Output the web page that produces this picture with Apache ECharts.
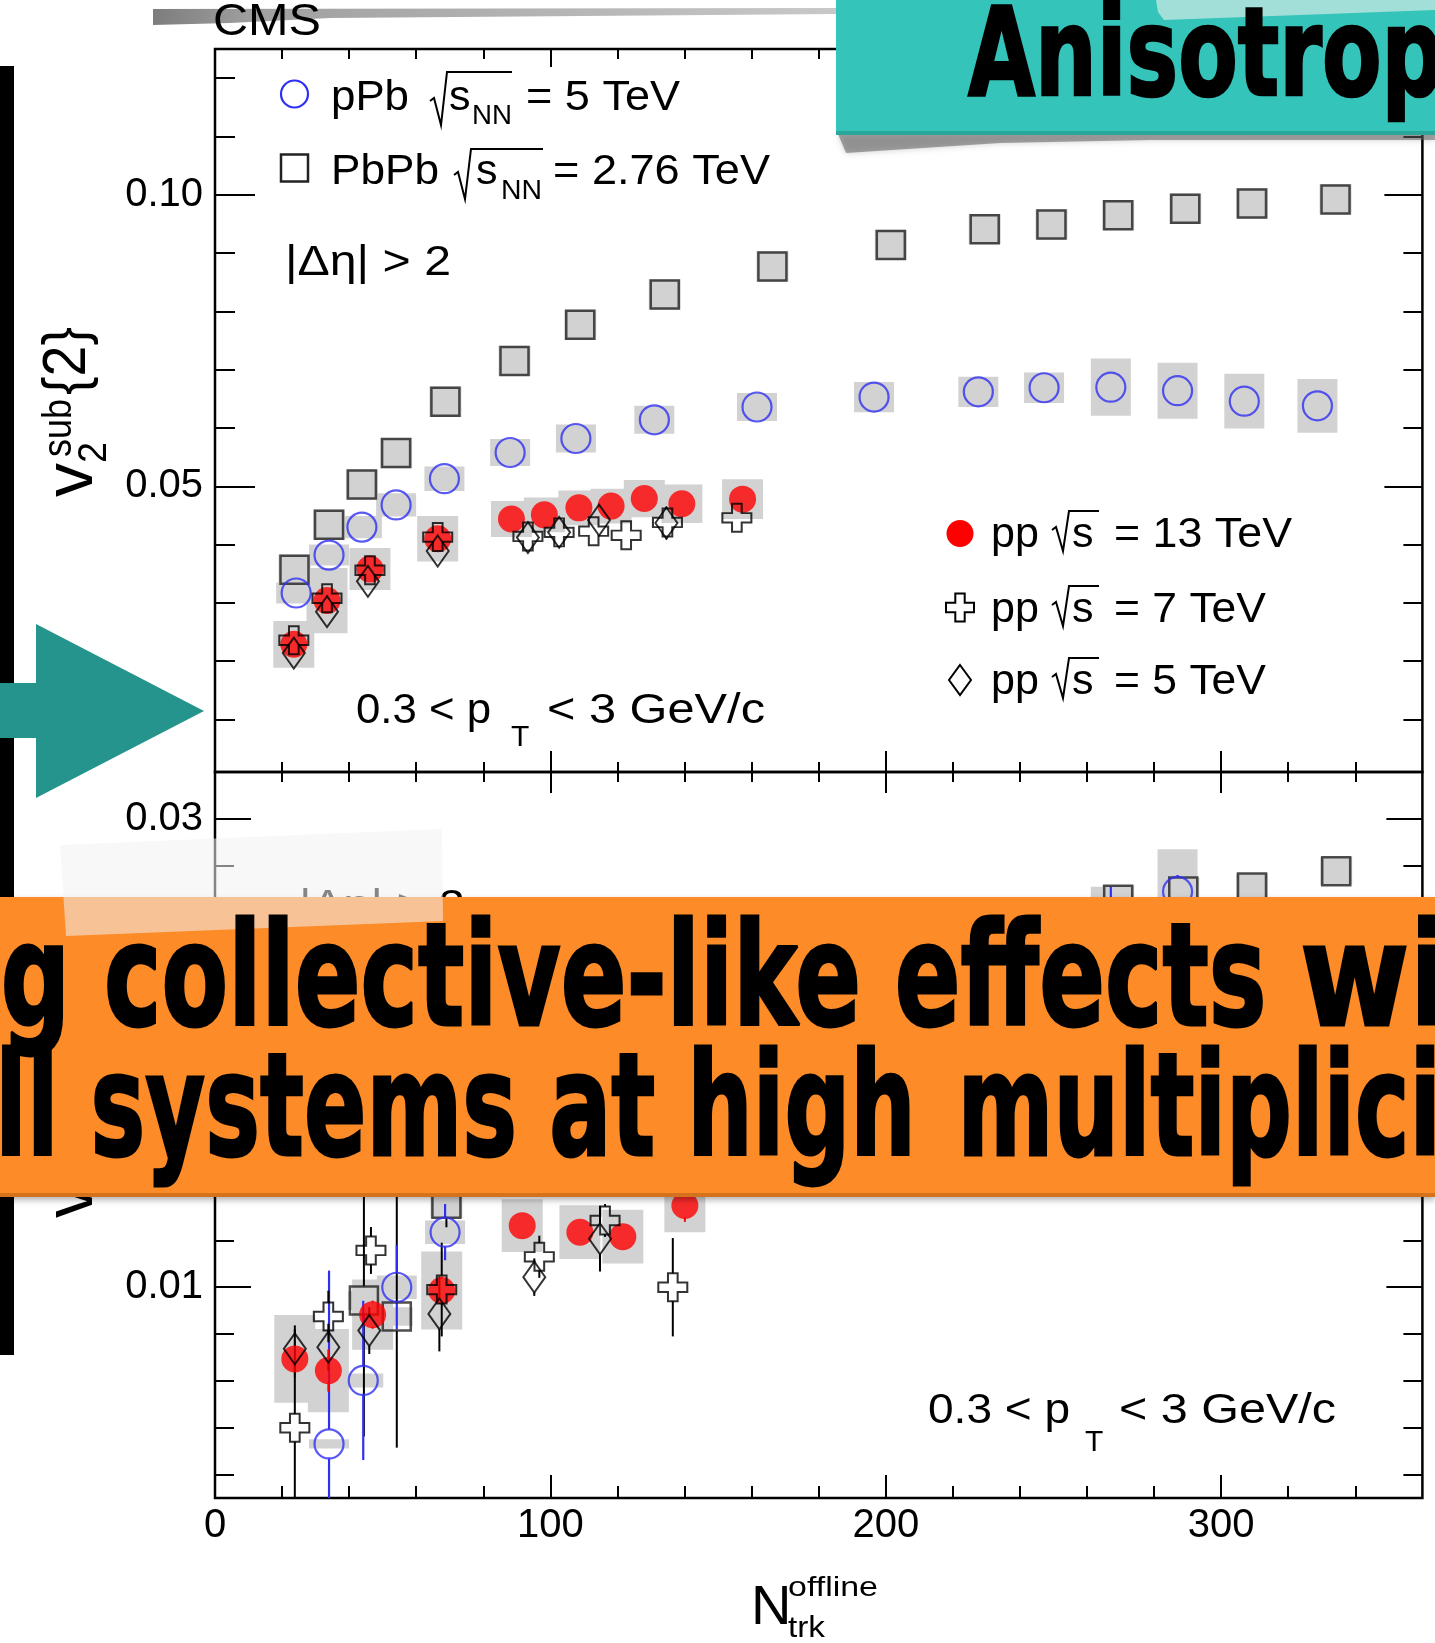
<!DOCTYPE html>
<html>
<head>
<meta charset="utf-8">
<title>v2sub{2} vs Ntrk offline</title>
<script src="https://cdn.jsdelivr.net/npm/echarts@6/dist/echarts.min.js"></script>
<style>
html,body{margin:0;padding:0;background:#ffffff;overflow:hidden;}
#chart{width:1435px;height:1643px;}
</style>
</head>
<body>
<div id="chart"></div>
<script>
// ================= DATA =================
// --- Upper panel: v2sub{2} ---
const v2_PbPb_N   = [23.7, 34.0, 43.8, 54.0, 68.7, 89.3, 108.9, 134.1, 166.2, 201.5, 229.5, 249.4, 269.3, 289.3, 309.2, 334.1];
const v2_PbPb     = [0.0357, 0.0434, 0.0503, 0.0557, 0.0645, 0.0715, 0.0777, 0.0829, 0.0877, 0.0914, 0.0941, 0.0949, 0.0965, 0.0976, 0.0985, 0.0992];
const v2_PbPb_sys = [0.0026, 0.0026, 0.0026, 0.0026, 0.0026, 0.0026, 0.0026, 0.0026, 0.0026, 0.0026, 0.0026, 0.0026, 0.0026, 0.0026, 0.0026, 0.0026];

const v2_pPb_N   = [24.2, 34.0, 43.8, 54.0, 68.4, 88.0, 107.6, 131.0, 161.6, 196.5, 227.6, 247.2, 267.1, 287.0, 306.9, 328.7];
const v2_pPb     = [0.0317, 0.0382, 0.0430, 0.0468, 0.0513, 0.0558, 0.0582, 0.0614, 0.0636, 0.0653, 0.0662, 0.0669, 0.0670, 0.0664, 0.0646, 0.0638];
const v2_pPb_sys = [0.0018, 0.0018, 0.0019, 0.0020, 0.0021, 0.0023, 0.0024, 0.0024, 0.0024, 0.0026, 0.0026, 0.0026, 0.0049, 0.0048, 0.0047, 0.0046];

const v2_pp13_N   = [23.5, 33.4, 46.2, 66.4, 88.4, 98.2, 108.5, 118.1, 128.0, 139.2, 157.3];
const v2_pp13     = [0.0229, 0.0304, 0.0358, 0.0410, 0.0444, 0.0451, 0.0463, 0.0466, 0.0479, 0.0470, 0.0478];
const v2_pp13_sys = [0.0040, 0.0056, 0.0036, 0.0039, 0.0031, 0.0030, 0.0030, 0.0030, 0.0032, 0.0033, 0.0034];

const v2_pp7_N   = [23.5, 33.4, 46.2, 66.4, 93.3, 102.6, 112.9, 122.6, 134.9, 155.6];
const v2_pp7     = [0.0236, 0.0308, 0.0356, 0.0413, 0.0414, 0.0421, 0.0423, 0.0416, 0.0438, 0.0446];
const v2_pp7_err = [0.0005, 0.0005, 0.0005, 0.0005, 0.0012, 0.0012, 0.0012, 0.0012, 0.0015, 0.0018];

const v2_pp5_N   = [23.5, 33.4, 45.6, 66.4, 93.3, 102.6, 114.5, 134.6];
const v2_pp5     = [0.0214, 0.0285, 0.0337, 0.0389, 0.0412, 0.0421, 0.0442, 0.0437];
const v2_pp5_err = [0.0010, 0.0010, 0.0010, 0.0010, 0.0015, 0.0015, 0.0018, 0.0028];

// --- Lower panel: v3sub{2} ---
const v3_PbPb_N   = [44.4, 54.2, 69.0, 269.3, 288.7, 309.2, 334.3];
const v3_PbPb     = [0.00943, 0.00875, 0.01356, 0.02655, 0.02690, 0.02707, 0.02776];
const v3_PbPb_err = [0.0058, 0.0056, 0.0010, 0.0005, 0.0005, 0.0005, 0.0005];
const v3_PbPb_sys = [0.0004, 0.0004, 0.0006, 0.0006, 0.0006, 0.0006, 0.0006];

const v3_pPb_N   = [34.0, 44.2, 54.2, 68.6, 267.1, 287.0, 328.7];
const v3_pPb     = [0.00331, 0.00602, 0.01000, 0.01235, 0.0256, 0.0269, 0.0240];
const v3_pPb_err = [0.0074, 0.0034, 0.0018, 0.0012, 0.0015, 0.0007, 0.0026];
const v3_pPb_sys = [0.0002, 0.0003, 0.0005, 0.0005, 0.0015, 0.0018, 0.0018];

const v3_pp13_N   = [23.8, 33.8, 47.0, 67.6, 91.6, 108.8, 121.6, 140.1];
const v3_pp13     = [0.00694, 0.00644, 0.00883, 0.00986, 0.01263, 0.01235, 0.01216, 0.01349];
const v3_pp13_err = [0.0008, 0.0009, 0.0006, 0.0006, 0.0005, 0.0005, 0.0005, 0.0007];
const v3_pp13_sys = [0.00187, 0.00178, 0.00150, 0.00167, 0.00113, 0.00115, 0.00115, 0.00114];

const v3_pp7_N   = [23.8, 33.8, 46.5, 67.6, 96.7, 116.3, 136.5];
const v3_pp7     = [0.00400, 0.00875, 0.01157, 0.00990, 0.01130, 0.01285, 0.01000];
const v3_pp7_err = [0.0042, 0.0011, 0.0010, 0.0020, 0.0009, 0.0007, 0.0021];

const v3_pp5_N   = [23.8, 33.8, 46.0, 66.9, 95.2, 114.8];
const v3_pp5     = [0.00737, 0.00744, 0.00815, 0.00886, 0.01043, 0.01207];
const v3_pp5_err = [0.0010, 0.0010, 0.0010, 0.0016, 0.0008, 0.0014];

// --- Axes: ranges and ticks ---
const xRange = [0, 360];
const y2Range = [0.001, 0.125];
const y3Range = [0.001, 0.032];
const xTicksMajor = [0, 100, 200, 300];
const xTicksMinor = [20, 40, 60, 80, 120, 140, 160, 180, 220, 240, 260, 280, 320, 340];
const xTickLabels = [0, 100, 200, 300];
const y2TicksMajor = [0.05, 0.10];
const y2TicksMinor = [0.01, 0.02, 0.03, 0.04, 0.06, 0.07, 0.08, 0.09, 0.11, 0.12];
const y2TickLabels = [0.05, 0.10];
const y3TicksMajor = [0.01, 0.02, 0.03];
const y3TicksMinor = [0.002, 0.004, 0.006, 0.008, 0.012, 0.014, 0.016, 0.018, 0.022, 0.024, 0.026, 0.028];
const y3TickLabels = [0.01, 0.02, 0.03];

// ================= STYLE / LAYOUT =================
const SANS = '"Liberation Sans", Arial, Helvetica, sans-serif';
const BLUE = '#2f2ff2';
const RED = '#ff0000';
const BOXGRAY = '#d2d2d2';
const GRID_L = 215, GRID_R = 12.6;
const MID = 0.28;   // offset of the canvas "middle" line above the alphabetic baseline (in em)

const chart = echarts.init(document.getElementById('chart'), null, {renderer: 'canvas', width: 1435, height: 1643});

const _ctx = document.createElement('canvas').getContext('2d');
function measureW(s, font) { _ctx.font = font; return _ctx.measureText(s).width; }

function txt(str, x, base, size, o) {
  o = o || {};
  const family = o.family || SANS;
  const font = (o.weight ? o.weight + ' ' : '') + size + 'px ' + family;
  let sx = 1;
  if (o.width) sx = o.width / measureW(str, font);
  const style = { text: str, x: 0, y: -MID * size, font: font, fill: o.color || '#000',
    align: 'left', textAlign: 'left', verticalAlign: 'middle', textVerticalAlign: 'middle' };
  return { type: 'text', x: x, y: base, rotation: o.rot || 0, scaleX: sx, scaleY: o.sy || 1,
    originX: 0, originY: 0, z: o.z || 20, silent: true, style: style };
}

// Banner line: fit one reference segment to [segL, segR], then place all pieces with the same scale
function bannerLine(pieces, prefix, seg, segL, segR, base, F, xh, z) {
  const font = 'bold ' + F + 'px "DejaVu Sans", sans-serif';
  const wPre = measureW(prefix, font);
  const wSeg = measureW(prefix + seg, font) - wPre;
  const sx = (segR - segL) / wSeg;
  const sy = xh / (0.547 * F);
  return pieces.map(function (p) {
    const left = (p[1] === null) ? segL - wPre * sx : p[1];
    const k = p[2] || 1;
    return { type: 'text', x: left, y: base, scaleX: sx * k, scaleY: sy, originX: 0, originY: 0,
      z: z, silent: true,
      style: { text: p[0], x: 0, y: -MID * F, font: font, fill: '#000', stroke: '#000', lineWidth: 2,
        lineJoin: 'round', align: 'left', textAlign: 'left', verticalAlign: 'middle', textVerticalAlign: 'middle' } };
  });
}

function line(points, color, w, z) {
  return { type: 'polyline', shape: { points: points }, silent: true, z: z || 20,
    style: { stroke: color || '#000', lineWidth: w || 2, fill: null, lineJoin: 'miter' } };
}

function crossPts(cx, cy, h, a) {
  return [[cx - a, cy - h], [cx + a, cy - h], [cx + a, cy - a], [cx + h, cy - a], [cx + h, cy + a], [cx + a, cy + a],
          [cx + a, cy + h], [cx - a, cy + h], [cx - a, cy + a], [cx - h, cy + a], [cx - h, cy - a], [cx - a, cy - a]];
}

// ---------- axes ----------
function xa(grid, pos, ticks, len, labels) {
  return {
    type: 'value', gridIndex: grid, position: pos, min: xRange[0], max: xRange[1],
    axisLine: { show: false, onZero: false }, splitLine: { show: false },
    axisTick: { show: true, inside: true, length: len, customValues: ticks, lineStyle: { color: '#000', width: 2 } },
    axisLabel: labels ? { show: true, customValues: labels, fontSize: 40, fontFamily: SANS, color: '#000', margin: 8,
      formatter: function (v) { return String(Math.round(v)); } } : { show: false }
  };
}
function ya(grid, pos, range, ticks, len, labels) {
  return {
    type: 'value', gridIndex: grid, position: pos, min: range[0], max: range[1],
    axisLine: { show: false, onZero: false }, splitLine: { show: false },
    axisTick: { show: true, inside: true, length: len, customValues: ticks, lineStyle: { color: '#000', width: 2 } },
    axisLabel: labels ? { show: true, customValues: labels, fontSize: 40, fontFamily: SANS, color: '#000', margin: 12,
      formatter: function (v) { return v.toFixed(2); } } : { show: false }
  };
}

const xAxes = [
  xa(0, 'bottom', xTicksMajor, 21, null),
  xa(0, 'bottom', xTicksMinor, 10, null),
  xa(0, 'top', xTicksMajor, 18, null),
  xa(0, 'top', xTicksMinor, 10, null),
  xa(1, 'bottom', xTicksMajor, 23, xTickLabels),
  xa(1, 'bottom', xTicksMinor, 12, null),
  xa(1, 'top', xTicksMajor, 21, null),
  xa(1, 'top', xTicksMinor, 10, null)
];
const yAxes = [
  ya(0, 'left', y2Range, y2TicksMajor, 40, y2TickLabels),
  ya(0, 'left', y2Range, y2TicksMinor, 20, null),
  ya(0, 'right', y2Range, y2TicksMajor, 38, null),
  ya(0, 'right', y2Range, y2TicksMinor, 19, null),
  ya(1, 'left', y3Range, y3TicksMajor, 36, y3TickLabels),
  ya(1, 'left', y3Range, y3TicksMinor, 19, null),
  ya(1, 'right', y3Range, y3TicksMajor, 36, null),
  ya(1, 'right', y3Range, y3TicksMinor, 19, null)
];

// ---------- series ----------
function zip3(a, b, c) { return a.map(function (n, i) { return [n, b[i], c ? c[i] : 0]; }); }

function boxSeries(xi, yi, N, v, sys, halfW) {
  return {
    type: 'custom', xAxisIndex: xi, yAxisIndex: yi, z: 1, silent: true, clip: true,
    data: zip3(N, v, sys),
    renderItem: function (params, api) {
      const n = api.value(0), y = api.value(1), e = api.value(2);
      const p1 = api.coord([n, y + e]), p2 = api.coord([n, y - e]);
      const r = echarts.graphic.clipRectByRect(
        { x: p1[0] - halfW, y: p1[1], width: 2 * halfW, height: p2[1] - p1[1] }, params.coordSys);
      return r ? { type: 'rect', shape: r, style: { fill: BOXGRAY } } : null;
    }
  };
}
function errSeries(xi, yi, N, v, err, color, gap, lw) {
  return {
    type: 'custom', xAxisIndex: xi, yAxisIndex: yi, z: 2, silent: true, clip: true,
    data: zip3(N, v, err),
    renderItem: function (params, api) {
      const n = api.value(0), y = api.value(1), e = api.value(2);
      const c = api.coord([n, y]), t = api.coord([n, y + e]), b = api.coord([n, y - e]);
      const cs = params.coordSys;
      const top = Math.max(t[1], cs.y), bot = Math.min(b[1], cs.y + cs.height);
      const ch = [];
      if (c[1] - gap > top) ch.push({ type: 'line', shape: { x1: c[0], y1: top, x2: c[0], y2: Math.min(c[1] - gap, cs.y + cs.height) },
        style: { stroke: color, lineWidth: lw || 2 } });
      if (bot > c[1] + gap) ch.push({ type: 'line', shape: { x1: c[0], y1: Math.max(c[1] + gap, cs.y), x2: c[0], y2: bot },
        style: { stroke: color, lineWidth: lw || 2 } });
      return { type: 'group', children: ch };
    }
  };
}
function scat(xi, yi, N, v, symbol, size, itemStyle, z) {
  return { type: 'scatter', xAxisIndex: xi, yAxisIndex: yi, silent: true, z: z, clip: true,
    data: zip3(N, v, null).map(function (d) { return [d[0], d[1]]; }),
    symbol: symbol, symbolSize: size, itemStyle: itemStyle, emphasis: { disabled: true } };
}
const CROSS = 'path://M10,0 L20,0 L20,10 L30,10 L30,20 L20,20 L20,30 L10,30 L10,20 L0,20 L0,10 L10,10 Z';
const OPEN = 'rgba(0,0,0,0)';

function panel(xi, yi, D) {
  const s = [];
  s.push(boxSeries(xi, yi, D.pPb_N, D.pPb, D.pPb_sys, 20));
  s.push(boxSeries(xi, yi, D.PbPb_N, D.PbPb, D.PbPb_sys, 16));
  s.push(boxSeries(xi, yi, D.pp13_N, D.pp13, D.pp13_sys, 20.5));
  if (D.PbPb_err) s.push(errSeries(xi, yi, D.PbPb_N, D.PbPb, D.PbPb_err, '#000', 14, 2));
  if (D.pPb_err) s.push(errSeries(xi, yi, D.pPb_N, D.pPb, D.pPb_err, BLUE, 14.5, 2.2));
  if (D.pp13_err) s.push(errSeries(xi, yi, D.pp13_N, D.pp13, D.pp13_err, RED, 12, 2));
  s.push(errSeries(xi, yi, D.pp5_N, D.pp5, D.pp5_err, '#000', 15, 2));
  s.push(errSeries(xi, yi, D.pp7_N, D.pp7, D.pp7_err, '#000', 14, 2));
  s.push(scat(xi, yi, D.PbPb_N, D.PbPb, 'rect', 28, { color: OPEN, borderColor: '#222', borderWidth: 2.5 }, 5));
  s.push(scat(xi, yi, D.pPb_N, D.pPb, 'circle', 29, { color: OPEN, borderColor: BLUE, borderWidth: 2.2 }, 6));
  s.push(scat(xi, yi, D.pp13_N, D.pp13, 'circle', 27, { color: RED }, 7));
  s.push(scat(xi, yi, D.pp5_N, D.pp5, 'diamond', [22, 31], { color: OPEN, borderColor: '#000', borderWidth: 2 }, 8));
  s.push(scat(xi, yi, D.pp7_N, D.pp7, CROSS, [29, 28], { color: OPEN, borderColor: '#000', borderWidth: 2 }, 9));
  return s;
}

const series = [].concat(
  panel(0, 0, {
    PbPb_N: v2_PbPb_N, PbPb: v2_PbPb, PbPb_sys: v2_PbPb_sys,
    pPb_N: v2_pPb_N, pPb: v2_pPb, pPb_sys: v2_pPb_sys,
    pp13_N: v2_pp13_N, pp13: v2_pp13, pp13_sys: v2_pp13_sys,
    pp7_N: v2_pp7_N, pp7: v2_pp7, pp7_err: v2_pp7_err,
    pp5_N: v2_pp5_N, pp5: v2_pp5, pp5_err: v2_pp5_err
  }),
  panel(4, 4, {
    PbPb_N: v3_PbPb_N, PbPb: v3_PbPb, PbPb_sys: v3_PbPb_sys, PbPb_err: v3_PbPb_err,
    pPb_N: v3_pPb_N, pPb: v3_pPb, pPb_sys: v3_pPb_sys, pPb_err: v3_pPb_err,
    pp13_N: v3_pp13_N, pp13: v3_pp13, pp13_sys: v3_pp13_sys, pp13_err: v3_pp13_err,
    pp7_N: v3_pp7_N, pp7: v3_pp7, pp7_err: v3_pp7_err,
    pp5_N: v3_pp5_N, pp5: v3_pp5, pp5_err: v3_pp5_err
  })
);

// ---------- annotations (text, legend) ----------
const R90 = Math.PI / 2;
const G = [];
// CMS header + gray strip
G.push({ type: 'polygon', silent: true, z: 14,
  shape: { points: [[153, 9], [836, 8], [836, 14], [330, 18], [230, 23], [153, 25]] },
  style: { fill: new echarts.graphic.LinearGradient(0, 0, 1, 0, [{ offset: 0, color: '#7d7d7d' }, { offset: 0.15, color: '#a0a0a0' }, { offset: 1, color: '#c8c8c8' }]) } });
G.push(txt('CMS', 213, 35, 45, { width: 108, z: 22 }));

// upper legend
G.push({ type: 'circle', silent: true, z: 20, shape: { cx: 294.5, cy: 94, r: 13.5 }, style: { fill: null, stroke: BLUE, lineWidth: 2.2 } });
G.push(txt('pPb', 331, 110, 43, { width: 78 }));
G.push(line([[430, 101], [434, 98], [441, 125], [447, 72], [512, 72]], '#000', 2));
G.push(txt('s', 449, 110, 43));
G.push(txt('NN', 472, 124, 27, { width: 40 }));
G.push(txt('= 5 TeV', 526, 110, 43, { width: 154 }));

G.push({ type: 'rect', silent: true, z: 20, shape: { x: 281, y: 154.5, width: 27, height: 27 }, style: { fill: null, stroke: '#222', lineWidth: 2.5 } });
G.push(txt('PbPb', 331, 184.5, 43, { width: 108 }));
G.push(line([[454, 175], [458, 172], [465, 199], [471, 149], [543, 149]], '#000', 2));
G.push(txt('s', 476, 184.5, 43));
G.push(txt('NN', 501, 199, 27, { width: 41 }));
G.push(txt('= 2.76 TeV', 553, 184.5, 43, { width: 217 }));

G.push(txt('|\u0394\u03b7| > 2', 285, 275.5, 43, { width: 166 }));
G.push(txt('0.3 < p', 356, 723.3, 43, { width: 135 }));
G.push(txt('T', 511, 746, 30));
G.push(txt('< 3 GeV/c', 547, 723.3, 43, { width: 218 }));

// right legend
G.push({ type: 'circle', silent: true, z: 20, shape: { cx: 960, cy: 533.5, r: 13.5 }, style: { fill: RED } });
G.push({ type: 'polygon', silent: true, z: 20, shape: { points: crossPts(960, 607.5, 14, 4.7) }, style: { fill: null, stroke: '#000', lineWidth: 2 } });
G.push({ type: 'polygon', silent: true, z: 20, shape: { points: [[960, 665], [971, 680], [960, 695], [949, 680]] }, style: { fill: null, stroke: '#000', lineWidth: 2 } });
[[547, 'pp', '= 13 TeV', 178], [622, 'pp', '= 7 TeV', 152], [694, 'pp', '= 5 TeV', 152]].forEach(function (r) {
  const b = r[0];
  G.push(txt(r[1], 991, b, 43));
  G.push(line([[1052, b - 17], [1056, b - 20], [1063, b + 4], [1069, b - 36], [1099, b - 36]], '#000', 2));
  G.push(txt('s', 1072, b, 43));
  G.push(txt(r[2], 1114, b, 43, { width: r[3] }));
});

// lower panel texts
G.push(txt('|\u0394\u03b7| > 2', 299, 919, 43, { width: 166 }));
G.push(txt('0.3 < p', 928, 1423.5, 43, { width: 142 }));
G.push(txt('T', 1085, 1451.5, 30));
G.push(txt('< 3 GeV/c', 1119, 1423.5, 43, { width: 217 }));

// y-axis titles (rotated)
G.push(txt('v', 92, 497, 68, { rot: R90, width: 34 }));
G.push(txt('2', 106, 463, 40, { rot: R90, width: 21 }));
G.push(txt('sub', 71, 457, 40, { rot: R90, width: 58 }));
G.push(txt('{2}', 85, 395, 62, { rot: R90, width: 68 }));
G.push(txt('v', 92, 1218, 68, { rot: R90, width: 34 }));
G.push(txt('3', 106, 1184, 40, { rot: R90, width: 21 }));
G.push(txt('sub', 71, 1178, 40, { rot: R90, width: 58 }));
G.push(txt('{2}', 85, 1116, 62, { rot: R90, width: 68 }));

// x-axis title
G.push(txt('N', 751, 1624.5, 56));
G.push(txt('offline', 788, 1596, 28, { width: 90 }));
G.push(txt('trk', 788, 1637, 30, { width: 37 }));

// ---------- overlays (banners, tape, arrow) ----------
// black bar (behind the orange banner) and teal arrow
G.push({ type: 'rect', silent: true, z: 25, shape: { x: 0, y: 66, width: 14, height: 1289 }, style: { fill: '#000' } });
G.push({ type: 'polygon', silent: true, z: 40, shape: { points: [[0, 683], [36, 683], [36, 624], [204, 711], [36, 798], [36, 738], [0, 738]] },
  style: { fill: '#25948c' } });

// teal banner
G.push({ type: 'polygon', silent: true, z: 28, shape: { points: [[838, 134], [1435, 133], [1435, 140], [1150, 140], [1000, 143], [846, 153]] },
  style: { fill: 'rgba(95,95,95,0.55)', shadowBlur: 6, shadowColor: 'rgba(0,0,0,0.35)' } });
G.push({ type: 'rect', silent: true, z: 30, shape: { x: 836, y: 0, width: 600, height: 135 }, style: { fill: '#34c4ba' } });
G.push({ type: 'rect', silent: true, z: 31, shape: { x: 836, y: 131, width: 600, height: 4 }, style: { fill: '#2aa69c' } });
G.push({ type: 'polygon', silent: true, z: 32, shape: { points: [[1156, 0], [1435, 0], [1435, 10], [1164, 20], [1158, 12]] }, style: { fill: '#a3dfd9' } });
bannerLine([['Anisotropy', null]], '', 'Anisotro', 968, 1381.5, 97, 90, 67, 35).forEach(function (e) { G.push(e); });

// orange banner
G.push({ type: 'rect', silent: true, z: 30, shape: { x: 0, y: 897, width: 1435, height: 300 },
  style: { fill: '#fd8b27', shadowBlur: 6, shadowOffsetY: 3, shadowColor: 'rgba(0,0,0,0.3)' } });
G.push({ type: 'rect', silent: true, z: 31, shape: { x: 0, y: 1193, width: 1435, height: 4 }, style: { fill: '#d4721e' } });
// tape piece
G.push({ type: 'polygon', silent: true, z: 33, shape: { points: [[60, 845], [442, 829], [443, 921], [66, 936]] },
  style: { fill: 'rgba(242,242,242,0.55)' } });
bannerLine([['ing collective-like effects', null], ['with', 1300, 1.22]], 'ing ', 'collective-like effects', 104, 1266.6, 1028.3, 100, 78, 35)
  .forEach(function (e) { G.push(e); });
bannerLine([['all systems at high', null], ['multiplicity', 957.5]], 'all ', 'systems at high', 90.5, 915.8, 1158.3, 100, 78, 35)
  .forEach(function (e) { G.push(e); });

const option = {
  animation: false,
  backgroundColor: '#ffffff',
  tooltip: { show: false },
  grid: [
    { left: GRID_L, right: GRID_R, top: 49, height: 723, show: true, borderColor: '#000', borderWidth: 2.5, backgroundColor: 'rgba(0,0,0,0)' },
    { left: GRID_L, right: GRID_R, top: 772, height: 726, show: true, borderColor: '#000', borderWidth: 2.5, backgroundColor: 'rgba(0,0,0,0)' }
  ],
  xAxis: xAxes,
  yAxis: yAxes,
  series: series,
  graphic: { elements: G }
};
chart.setOption(option);
</script>
</body>
</html>
